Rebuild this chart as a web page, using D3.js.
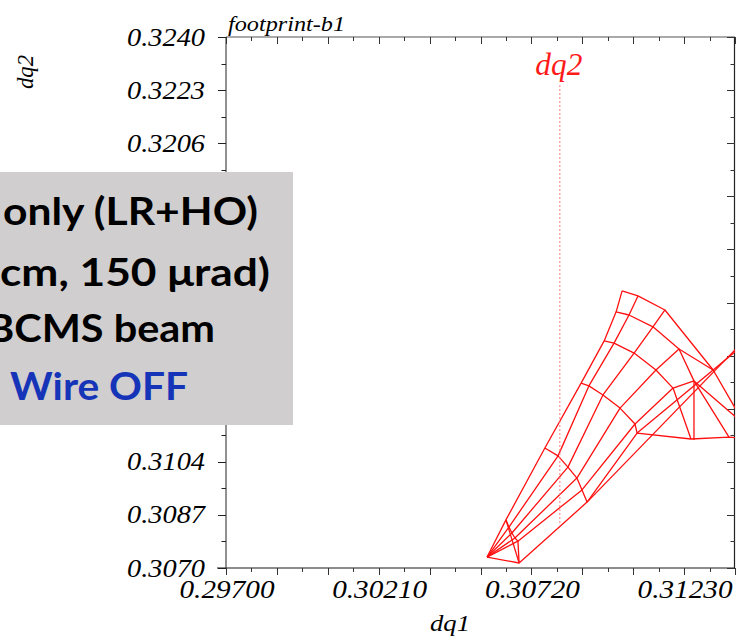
<!DOCTYPE html>
<html>
<head>
<meta charset="utf-8">
<script src="https://cdn.jsdelivr.net/npm/d3@7"></script>
<style>
  html, body { margin: 0; padding: 0; background: #fff; }
  svg { display: block; }
</style>
</head>
<body>
<svg id="chart" width="740" height="641"></svg>
<script>
// Axis ranges and ticks
const xDomain = [0.297, 0.314];
const yDomain = [0.3070, 0.3240];
const xTickValues = [0.2970, 0.3021, 0.3072, 0.3123];
const xTickLabels = ["0.29700", "0.30210", "0.30720", "0.31230"];
const yTickValues = [0.3070, 0.3087, 0.3104, 0.3121, 0.3138, 0.3155, 0.3172, 0.3189, 0.3206, 0.3223, 0.3240];
const yTickLabels = ["0.3070", "0.3087", "0.3104", "0.3121", "0.3138", "0.3155", "0.3172", "0.3189", "0.3206", "0.3223", "0.3240"];

// Footprint grid: one row per amplitude ring, one column per angle
const amplitudes = [0, 1, 2, 3, 4, 5, 6];
const angles = [90, 72, 54, 36, 18, 0];
const footDq1 = [
  [0.30572, 0.30572, 0.30572, 0.30572, 0.30572, 0.30572],
  [0.30635, 0.30645, 0.30655, 0.30665, 0.30675, 0.30679],
  [0.30765, 0.30809, 0.30842, 0.30872, 0.30889, 0.30906],
  [0.30886, 0.30912, 0.30959, 0.31016, 0.31066, 0.31073],
  [0.30963, 0.30996, 0.31063, 0.31136, 0.31193, 0.31253],
  [0.31003, 0.31046, 0.31126, 0.31213, 0.31263, 0.31380],
  [0.31023, 0.31076, 0.31166, 0.31327, 0.31433, 0.31484]
];
const footDq2 = [
  [0.30735, 0.30735, 0.30735, 0.30735, 0.30735, 0.30735],
  [0.30854, 0.30831, 0.30812, 0.30796, 0.30786, 0.30716],
  [0.31084, 0.31059, 0.31023, 0.30988, 0.30950, 0.30911],
  [0.31292, 0.31283, 0.31254, 0.31212, 0.31161, 0.31132],
  [0.31427, 0.31420, 0.31388, 0.31334, 0.31276, 0.31113],
  [0.31520, 0.31510, 0.31472, 0.31401, 0.31299, 0.31119],
  [0.31587, 0.31571, 0.31526, 0.31334, 0.31158, 0.31110]
];

// Folded branches of the footprint
const foldDq1 = [
  [0.30906, 0.31484],
  [0.31073, 0.31484],
  [0.31263, 0.31263],
  [0.30635, 0.30679]
];
const foldDq2 = [
  [0.30911, 0.31481],
  [0.31132, 0.31459],
  [0.31299, 0.31110],
  [0.30854, 0.30716]
];

// Tune marker
const markerDq1 = 0.30815;
const markerDq2 = [0.30844, 0.32246];
const markerLabel = "dq2";

const titleText = "footprint-b1";
const boxLines = ["only (LR+HO)", "cm, 150 \u03bcrad)", "BCMS beam", "Wire OFF"];

const svg = d3.select("#chart");
const M = { left: 226, right: 735, top: 37, bottom: 568 };
const boxArea = { x: 0, y: 172, w: 293, h: 253 };

const x = d3.scaleLinear().domain(xDomain).range([M.left, M.right]);
const y = d3.scaleLinear().domain(yDomain).range([M.bottom, M.top]);

svg.append("rect").attr("width", 740).attr("height", 641).attr("fill", "#fff");

svg.append("defs").append("clipPath").attr("id", "plotClip")
  .append("rect")
  .attr("x", M.left).attr("y", M.top)
  .attr("width", M.right - M.left).attr("height", M.bottom - M.top);

// Tick positions every 0.00085 (long ones every 0.0017)
const xMinor = d3.range(0, 21).map(i => xDomain[0] + i * 0.00085).filter(v => v <= xDomain[1] + 1e-9);
const yMinor = d3.range(0, 21).map(i => yDomain[0] + i * 0.00085);

const serif = "'Liberation Serif', 'DejaVu Serif', serif";

// Frame
const frame = svg.append("g");
frame.append("line").attr("x1", 217).attr("x2", M.right).attr("y1", M.bottom).attr("y2", M.bottom)
  .attr("stroke", "#8c8c8c").attr("stroke-width", 2);
frame.append("line").attr("x1", M.left).attr("x2", M.right).attr("y1", M.top).attr("y2", M.top)
  .attr("stroke", "#8c8c8c").attr("stroke-width", 1.5);
frame.append("line").attr("x1", M.left).attr("x2", M.left).attr("y1", M.top).attr("y2", M.bottom)
  .attr("stroke", "#222").attr("stroke-width", 1);
frame.append("line").attr("x1", M.right - 0.5).attr("x2", M.right - 0.5).attr("y1", M.top).attr("y2", M.bottom)
  .attr("stroke", "#222").attr("stroke-width", 1.2);

const isMajor = v => Math.abs(Math.round((v - 0.297) / 0.0017) * 0.0017 - (v - 0.297)) < 1e-7;
const isMajorY = v => Math.abs(Math.round((v - 0.307) / 0.0017) * 0.0017 - (v - 0.307)) < 1e-7;

xMinor.forEach(v => {
  const len = isMajor(v) ? 7 : 4;
  const px = Math.round(x(v)) + 0.5;
  frame.append("line").attr("x1", px).attr("x2", px).attr("y1", M.bottom).attr("y2", M.bottom + len)
    .attr("stroke", "#333").attr("stroke-width", 1);
  frame.append("line").attr("x1", px).attr("x2", px).attr("y1", M.top).attr("y2", M.top + len)
    .attr("stroke", "#333").attr("stroke-width", 1);
});
yMinor.forEach(v => {
  const len = isMajorY(v) ? 8 : 4.5;
  const py = Math.round(y(v)) + 0.5;
  frame.append("line").attr("x1", M.left - len).attr("x2", M.left).attr("y1", py).attr("y2", py)
    .attr("stroke", "#222").attr("stroke-width", 1);
  frame.append("line").attr("x1", M.right - len).attr("x2", M.right).attr("y1", py).attr("y2", py)
    .attr("stroke", "#333").attr("stroke-width", 1);
});

// Tick labels (the annotation box sits over the middle of the left axis)
const labels = svg.append("g").attr("font-family", serif).attr("font-style", "italic").attr("fill", "#000");
xTickValues.forEach((v, i) => {
  labels.append("text").attr("x", x(v) + 1).attr("y", 598)
    .attr("text-anchor", "middle").attr("font-size", 26)
    .attr("textLength", 95).attr("lengthAdjust", "spacingAndGlyphs")
    .text(xTickLabels[i]);
});
yTickValues.forEach((v, i) => {
  const py = y(v);
  if (py > boxArea.y - 4 && py < boxArea.y + boxArea.h + 4) return;
  labels.append("text").attr("x", 205).attr("y", py + 8.5)
    .attr("text-anchor", "end").attr("font-size", 26)
    .attr("textLength", 78).attr("lengthAdjust", "spacingAndGlyphs")
    .text(yTickLabels[i]);
});

// Axis titles
labels.append("text").attr("x", 450).attr("y", 631).attr("text-anchor", "middle")
  .attr("font-size", 24).attr("textLength", 40).attr("lengthAdjust", "spacingAndGlyphs").text("dq1");
labels.append("text").attr("transform", "translate(33,72) rotate(-90)").attr("text-anchor", "middle")
  .attr("font-size", 24).attr("textLength", 34).attr("lengthAdjust", "spacingAndGlyphs").text("dq2");
labels.append("text").attr("x", 228).attr("y", 31)
  .attr("font-size", 20).attr("textLength", 117).attr("lengthAdjust", "spacingAndGlyphs").text(titleText);

// Footprint mesh
const mesh = svg.append("g").attr("clip-path", "url(#plotClip)")
  .attr("fill", "none").attr("stroke", "#ff1010").attr("stroke-width", 1.3)
  .attr("stroke-linejoin", "round");
const line = d3.line().x(d => x(d[0])).y(d => y(d[1]));

amplitudes.forEach((a, i) => {
  if (i === 0) return;
  const pts = angles.map((g, j) => [footDq1[i][j], footDq2[i][j]]);
  mesh.append("path").attr("d", line(pts));
});
angles.forEach((g, j) => {
  const pts = amplitudes.map((a, i) => [footDq1[i][j], footDq2[i][j]]);
  mesh.append("path").attr("d", line(pts));
});
foldDq1.forEach((row, k) => {
  const pts = row.map((v, m) => [v, foldDq2[k][m]]);
  mesh.append("path").attr("d", line(pts));
});

// Marker line and its label
svg.append("line")
  .attr("x1", x(markerDq1)).attr("x2", x(markerDq1))
  .attr("y1", y(markerDq2[0])).attr("y2", y(markerDq2[1]))
  .attr("stroke", "#ff7a7a").attr("stroke-width", 1).attr("stroke-dasharray", "2,2");
svg.append("text").attr("x", x(markerDq1) - 1).attr("y", 75)
  .attr("text-anchor", "middle").attr("font-family", serif).attr("font-style", "italic")
  .attr("font-size", 31).attr("textLength", 47).attr("lengthAdjust", "spacingAndGlyphs")
  .attr("fill", "#ff1a1a").text(markerLabel);

// Annotation box
const box = svg.append("g");
box.append("rect").attr("x", boxArea.x).attr("y", boxArea.y).attr("width", boxArea.w).attr("height", boxArea.h)
  .attr("fill", "#d0cece");
const boxFont = "Lato, 'Open Sans', sans-serif";
const boxSpec = [
  { x: 3, y: 225, len: 255, fill: "#000" },
  { x: 0, y: 286, len: 270, fill: "#000" },
  { x: -13, y: 342, len: 228, fill: "#000" },
  { x: 10, y: 400, len: 178, fill: "#1534b8" }
];
boxLines.forEach((t, i) => {
  box.append("text").attr("x", boxSpec[i].x).attr("y", boxSpec[i].y)
    .attr("font-family", boxFont).attr("font-weight", "bold").attr("font-size", 38)
    .attr("textLength", boxSpec[i].len).attr("lengthAdjust", "spacingAndGlyphs")
    .attr("fill", boxSpec[i].fill).text(t);
});
</script>
</body>
</html>
